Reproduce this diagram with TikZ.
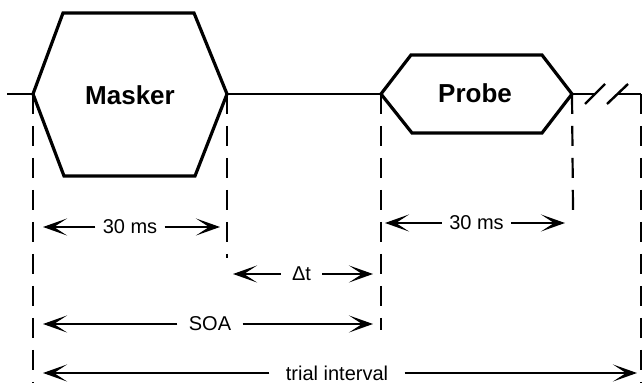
\documentclass[tikz,border=0pt]{standalone}
\usepackage{fontspec}
\setmainfont{Liberation Sans}
\usetikzlibrary{arrows.meta}

\begin{document}
\begin{tikzpicture}[x=0.5pt,y=-0.5pt,
  tone line/.style={line width=1.6pt,line join=miter},
  time line/.style={line width=1.2pt},
  guide line/.style={line width=1.1pt,dash pattern=on 10pt off 6pt},
  span arrow/.style={-{Stealth[length=12pt,width=8.5pt,inset=6.5pt]},line width=1.1pt},
  tone label/.style={font=\fontsize{13}{15}\selectfont\bfseries},
  span label/.style={font=\fontsize{10}{12}\selectfont,inner sep=3.5pt}]

  \useasboundingbox (0,0) rectangle (642,383);

  % masker and probe outlines
  \coordinate (m1) at (33,94);  \coordinate (m2) at (63,13);
  \coordinate (m3) at (194,13); \coordinate (m4) at (227,94);
  \coordinate (m5) at (195,176); \coordinate (m6) at (64,176);
  \coordinate (p1) at (381,94);  \coordinate (p2) at (411,55);
  \coordinate (p3) at (542,55);  \coordinate (p4) at (572,94);
  \coordinate (p5) at (542,133); \coordinate (p6) at (412,133);

  \draw[tone line] (m1) -- (m2) -- (m3) -- (m4) -- (m5) -- (m6) -- cycle;
  \draw[tone line] (p1) -- (p2) -- (p3) -- (p4) -- (p5) -- (p6) -- cycle;
  \node[tone label] (masker) at (130,95) {Masker};
  \node[tone label] (probe) at (475,93) {Probe};

  % time line with break
  \coordinate (start) at (7,94);
  \coordinate (b1) at (596,94);
  \coordinate (b2) at (617,94);
  \coordinate (end) at (641,94);
  \draw[time line] (start) -- (m1) (m4) -- (p1) (p4) -- (b1) (b2) -- (end);
  \draw[time line] (585,104) -- (605,84) (607,104) -- (628,84);

  % guides
  \draw[guide line] (m1) -- (33,383);
  \draw[guide line] (m4) -- (227,258);
  \draw[guide line] (p1) -- (381,330);
  \draw[guide line] (p4) -- (573,210);
  \draw[guide line] (end) -- (641,383);

  % spans
  \node[span label] (mdur) at (130,227) {30 ms};
  \draw[span arrow] (mdur.west) -- (43,227);
  \draw[span arrow] (mdur.east) -- (220,227);

  \node[span label] (pdur) at (476.5,223) {30 ms};
  \draw[span arrow] (pdur.west) -- (385,223);
  \draw[span arrow] (pdur.east) -- (565,223);

  \node[span label,inner sep=5.5pt] (gap) at (301.5,274) {Δt};
  \draw[span arrow] (gap.west) -- (233,274);
  \draw[span arrow] (gap.east) -- (373,274);

  \node[span label,inner sep=5.5pt] (soa) at (210,324) {SOA};
  \draw[span arrow] (soa.west) -- (43,324);
  \draw[span arrow] (soa.east) -- (373,324);

  \node[span label,inner sep=8pt] (trial) at (337,373) {trial interval};
  \draw[span arrow] (trial.west) -- (43,373);
  \draw[span arrow] (trial.east) -- (637,373);
\end{tikzpicture}
\end{document}
